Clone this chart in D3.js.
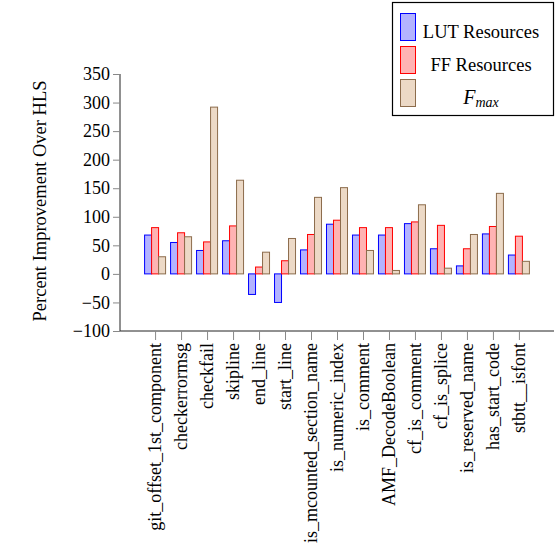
<!DOCTYPE html>
<html>
<head>
<meta charset="utf-8">
<script src="https://cdn.jsdelivr.net/npm/d3@7"></script>
<style>
  body { margin: 0; background: #fff; }
  svg { font-family: "Liberation Serif", "DejaVu Serif", serif; }
</style>
</head>
<body>
<svg id="chart" width="556" height="550"></svg>
<script>
// categories + series
const categories = [
  "git_offset_1st_component", "checkerrormsg", "checkfail", "skipline",
  "end_line", "start_line", "is_mcounted_section_name", "is_numeric_index",
  "is_comment", "AMF_DecodeBoolean", "cf_is_comment", "cf_is_splice",
  "is_reserved_name", "has_start_code", "stbtt__isfont"
];
const lutValues = [68, 55, 41, 58, -36, -50, 42, 87, 68, 68, 88, 44, 14, 70, 33];
const ffValues = [81, 72, 56, 84, 12, 23, 69, 94, 81, 81, 91, 85, 44, 83, 66];
const fmaxValues = [30, 65, 292, 164, 38, 62, 134, 151, 41, 6, 121, 10, 69, 141, 22];
const yTicks = [-100, -50, 0, 50, 100, 150, 200, 250, 300, 350];

const series = [
  { name: "LUT Resources", values: lutValues, fill: "#b3b3ff", stroke: "#0000ff" },
  { name: "FF Resources", values: ffValues, fill: "#ffb3b3", stroke: "#ff0000" },
  { name: "Fmax", values: fmaxValues, fill: "#ecd9c6", stroke: "#8c6c4c" }
];

const FONT = "Liberation Serif, DejaVu Serif, serif";
const svg = d3.select("#chart");
const plotL = 120, plotR = 554, plotT = 74, plotB = 331;

const x = d3.scalePoint().domain(categories).range([plotL, plotR]).padding(1.35);
const y = d3.scaleLinear().domain([-100, 350]).range([plotB, plotT]);
const barW = 7;

// bars
series.forEach(function (s, si) {
  svg.append("g").selectAll("rect")
    .data(s.values)
    .enter().append("rect")
    .attr("x", function (d, i) { return x(categories[i]) + (si - 1.5) * barW; })
    .attr("y", function (d) { return y(Math.max(0, d)); })
    .attr("width", barW)
    .attr("height", function (d) { return Math.abs(y(d) - y(0)); })
    .attr("fill", s.fill)
    .attr("stroke", s.stroke)
    .attr("stroke-width", 1);
});

// y axis
const yAxis = svg.append("g")
  .attr("transform", `translate(${plotL},0)`)
  .call(d3.axisLeft(y).tickValues(yTicks).tickSize(7).tickPadding(3)
    .tickFormat(function (d) { return d < 0 ? "\u2212" + Math.abs(d) : d; }))
  .attr("font-family", FONT);
yAxis.select(".domain").attr("stroke", "#222").attr("d", `M0,${plotT}V${plotB}`);
yAxis.selectAll(".tick line").attr("stroke", "#888");
yAxis.selectAll(".tick text").attr("font-size", 18).attr("fill", "#000");

// x axis
const xAxis = svg.append("g")
  .attr("transform", `translate(0,${plotB})`)
  .call(d3.axisBottom(x).tickSize(9).tickPadding(3))
  .attr("font-family", FONT);
xAxis.select(".domain").attr("stroke", "#222").attr("d", `M${plotL},0H${plotR}`);
xAxis.selectAll(".tick line").attr("stroke", "#888");
xAxis.selectAll(".tick text")
  .attr("font-size", 18)
  .attr("fill", "#000")
  .attr("text-anchor", "end")
  .attr("dy", "0.32em")
  .attr("transform", "translate(0,12) rotate(-90)")
  .attr("x", 0).attr("y", 0);

// y label
svg.append("text")
  .attr("transform", "translate(46,201) rotate(-90)")
  .attr("text-anchor", "middle")
  .attr("font-size", 18.5)
  .text("Percent Improvement Over HLS");

// legend
const lg = svg.append("g");
lg.append("rect")
  .attr("x", 392.5).attr("y", 2.5).attr("width", 161).attr("height", 113)
  .attr("fill", "#fff").attr("stroke", "#000").attr("stroke-width", 1.2);
series.forEach(function (s, i) {
  const yy = 13.5 + i * 33;
  lg.append("rect")
    .attr("x", 400.5).attr("y", yy).attr("width", 15).attr("height", 27)
    .attr("fill", s.fill).attr("stroke", s.stroke).attr("stroke-width", 1);
  const t = lg.append("text")
    .attr("x", 481).attr("y", yy + 24)
    .attr("text-anchor", "middle")
    .attr("font-size", 18.5);
  if (i < 2) {
    t.text(s.name);
  } else {
    t.append("tspan").attr("font-style", "italic").attr("font-size", 20).text("F");
    t.append("tspan").attr("font-style", "italic").attr("font-size", 14)
      .attr("dy", 3).text("max");
  }
});
</script>
</body>
</html>
